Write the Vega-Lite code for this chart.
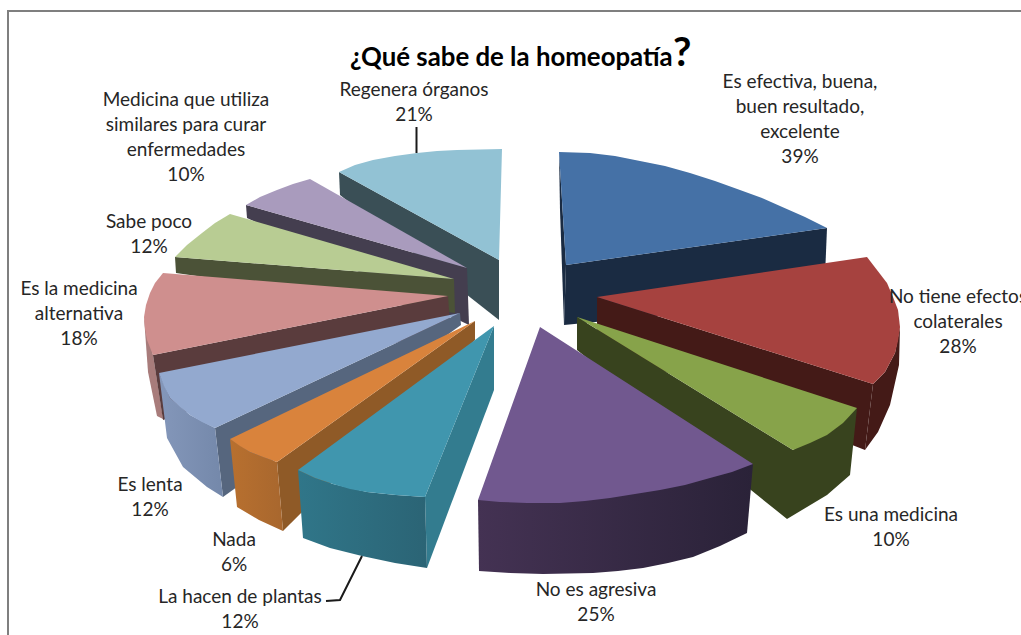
{
"$schema":"https://vega.github.io/schema/vega-lite/v6.json",
"width":1021,"height":635,
"autosize":{"type":"none"},
"padding":0,
"background":"white",
"view":{"stroke":null},
"datasets":{
"labels":[
{"category":"Es efectiva, buena, buen resultado, excelente","pct":39,"label":"Es efectiva, buena,\nbuen resultado,\nexcelente\n39%","x":800,"y":82},
{"category":"No tiene efectos colaterales","pct":28,"label":"No tiene efectos\ncolaterales\n28%","x":958,"y":297},
{"category":"Es una medicina","pct":10,"label":"Es una medicina\n10%","x":891,"y":515},
{"category":"No es agresiva","pct":25,"label":"No es agresiva\n25%","x":596,"y":590},
{"category":"La hacen de plantas","pct":12,"label":"La hacen de plantas\n12%","x":240,"y":597},
{"category":"Nada","pct":6,"label":"Nada\n6%","x":234,"y":540},
{"category":"Es lenta","pct":12,"label":"Es lenta\n12%","x":150,"y":485},
{"category":"Es la medicina alternativa","pct":18,"label":"Es la medicina\nalternativa\n18%","x":79,"y":289},
{"category":"Sabe poco","pct":12,"label":"Sabe poco\n12%","x":149,"y":222},
{"category":"Medicina que utiliza similares para curar enfermedades","pct":10,"label":"Medicina que utiliza\nsimilares para curar\nenfermedades\n10%","x":186,"y":100},
{"category":"Regenera órganos","pct":21,"label":"Regenera órganos\n21%","x":414,"y":90}
],
"frame":[{"i":0,"x":8,"y":635},{"i":1,"x":8,"y":11},{"i":2,"x":1021,"y":11}],
"leaders":[
{"g":"reg","i":0,"x":416.5,"y":127},{"g":"reg","i":1,"x":416.5,"y":153},
{"g":"pla","i":0,"x":362,"y":556},{"g":"pla","i":1,"x":340,"y":600},{"g":"pla","i":2,"x":326,"y":601}
],
"faces":[
{"face":"reg_side","i":0,"x":339,"y":172},{"face":"reg_side","i":1,"x":499,"y":260},{"face":"reg_side","i":2,"x":499,"y":320},{"face":"reg_side","i":3,"x":340,"y":195},
{"face":"reg_top","i":0,"x":339,"y":172},{"face":"reg_top","i":1,"x":355,"y":165},{"face":"reg_top","i":2,"x":373,"y":160},{"face":"reg_top","i":3,"x":395,"y":156},{"face":"reg_top","i":4,"x":417,"y":153},{"face":"reg_top","i":5,"x":437,"y":151},{"face":"reg_top","i":6,"x":457,"y":150},{"face":"reg_top","i":7,"x":480,"y":149.5},{"face":"reg_top","i":8,"x":502,"y":149},{"face":"reg_top","i":9,"x":499,"y":260},
{"face":"lil_side","i":0,"x":246,"y":205},{"face":"lil_side","i":1,"x":467,"y":268},{"face":"lil_side","i":2,"x":469,"y":325},{"face":"lil_side","i":3,"x":247,"y":218},
{"face":"lil_top","i":0,"x":246,"y":205},{"face":"lil_top","i":1,"x":260,"y":197},{"face":"lil_top","i":2,"x":277,"y":190},{"face":"lil_top","i":3,"x":293,"y":184},{"face":"lil_top","i":4,"x":310,"y":179},{"face":"lil_top","i":5,"x":467,"y":268},
{"face":"sab_side","i":0,"x":175,"y":257},{"face":"sab_side","i":1,"x":454,"y":279},{"face":"sab_side","i":2,"x":455,"y":313},{"face":"sab_side","i":3,"x":176,"y":273},
{"face":"sab_top","i":0,"x":175,"y":257},{"face":"sab_top","i":1,"x":187,"y":245},{"face":"sab_top","i":2,"x":202,"y":233},{"face":"sab_top","i":3,"x":215,"y":223},{"face":"sab_top","i":4,"x":230,"y":214},{"face":"sab_top","i":5,"x":454,"y":279},
{"face":"pin_out","i":0,"x":144,"y":317},{"face":"pin_out","i":1,"x":153,"y":355},{"face":"pin_out","i":2,"x":163,"y":419},{"face":"pin_out","i":3,"x":157,"y":416},{"face":"pin_out","i":4,"x":148,"y":372},
{"face":"pin_side","i":0,"x":448,"y":296},{"face":"pin_side","i":1,"x":153,"y":355},{"face":"pin_side","i":2,"x":163,"y":420},{"face":"pin_side","i":3,"x":450,"y":325},
{"face":"pin_top","i":0,"x":163,"y":273},{"face":"pin_top","i":1,"x":155,"y":283},{"face":"pin_top","i":2,"x":150,"y":293},{"face":"pin_top","i":3,"x":146,"y":305},{"face":"pin_top","i":4,"x":144,"y":317},{"face":"pin_top","i":5,"x":145,"y":329},{"face":"pin_top","i":6,"x":147,"y":340},{"face":"pin_top","i":7,"x":153,"y":355},{"face":"pin_top","i":8,"x":448,"y":296},
{"face":"per_right","i":0,"x":460,"y":313},{"face":"per_right","i":1,"x":215,"y":428},{"face":"per_right","i":2,"x":223,"y":497},{"face":"per_right","i":3,"x":461,"y":325},
{"face":"per_front","i":0,"x":159,"y":373},{"face":"per_front","i":1,"x":170,"y":398},{"face":"per_front","i":2,"x":190,"y":415},{"face":"per_front","i":3,"x":215,"y":428},{"face":"per_front","i":4,"x":223,"y":497},{"face":"per_front","i":5,"x":207,"y":487},{"face":"per_front","i":6,"x":183,"y":467},{"face":"per_front","i":7,"x":167,"y":438},
{"face":"per_top","i":0,"x":159,"y":373},{"face":"per_top","i":1,"x":164,"y":386},{"face":"per_top","i":2,"x":170,"y":398},{"face":"per_top","i":3,"x":180,"y":407},{"face":"per_top","i":4,"x":190,"y":415},{"face":"per_top","i":5,"x":202,"y":422},{"face":"per_top","i":6,"x":215,"y":428},{"face":"per_top","i":7,"x":460,"y":313},
{"face":"ora_right","i":0,"x":475,"y":321},{"face":"ora_right","i":1,"x":277,"y":462},{"face":"ora_right","i":2,"x":283,"y":531},{"face":"ora_right","i":3,"x":475,"y":340},
{"face":"ora_front","i":0,"x":230,"y":439},{"face":"ora_front","i":1,"x":250,"y":452},{"face":"ora_front","i":2,"x":277,"y":462},{"face":"ora_front","i":3,"x":283,"y":531},{"face":"ora_front","i":4,"x":259,"y":520},{"face":"ora_front","i":5,"x":237,"y":507},
{"face":"ora_top","i":0,"x":230,"y":439},{"face":"ora_top","i":1,"x":240,"y":446},{"face":"ora_top","i":2,"x":250,"y":452},{"face":"ora_top","i":3,"x":263,"y":457},{"face":"ora_top","i":4,"x":277,"y":462},{"face":"ora_top","i":5,"x":475,"y":321},
{"face":"tea_right","i":0,"x":494,"y":326},{"face":"tea_right","i":1,"x":425,"y":497},{"face":"tea_right","i":2,"x":427,"y":568},{"face":"tea_right","i":3,"x":494,"y":390},
{"face":"tea_front","i":0,"x":298,"y":470},{"face":"tea_front","i":1,"x":315,"y":478},{"face":"tea_front","i":2,"x":333,"y":484},{"face":"tea_front","i":3,"x":367,"y":492},{"face":"tea_front","i":4,"x":396,"y":495},{"face":"tea_front","i":5,"x":425,"y":497},{"face":"tea_front","i":6,"x":427,"y":568},{"face":"tea_front","i":7,"x":395,"y":563},{"face":"tea_front","i":8,"x":362,"y":556},{"face":"tea_front","i":9,"x":330,"y":548},{"face":"tea_front","i":10,"x":303,"y":538},
{"face":"tea_top","i":0,"x":298,"y":470},{"face":"tea_top","i":1,"x":315,"y":478},{"face":"tea_top","i":2,"x":333,"y":484},{"face":"tea_top","i":3,"x":350,"y":489},{"face":"tea_top","i":4,"x":367,"y":492},{"face":"tea_top","i":5,"x":396,"y":495},{"face":"tea_top","i":6,"x":425,"y":497},{"face":"tea_top","i":7,"x":494,"y":326},
{"face":"blu_left","i":0,"x":559,"y":152},{"face":"blu_left","i":1,"x":566,"y":265},{"face":"blu_left","i":2,"x":564,"y":325},{"face":"blu_left","i":3,"x":560,"y":210},
{"face":"blu_side","i":0,"x":566,"y":265},{"face":"blu_side","i":1,"x":827,"y":228},{"face":"blu_side","i":2,"x":824,"y":300},{"face":"blu_side","i":3,"x":564,"y":325},
{"face":"blu_top","i":0,"x":559,"y":152},{"face":"blu_top","i":1,"x":590,"y":153},{"face":"blu_top","i":2,"x":615,"y":156},{"face":"blu_top","i":3,"x":640,"y":161},{"face":"blu_top","i":4,"x":665,"y":166},{"face":"blu_top","i":5,"x":690,"y":173},{"face":"blu_top","i":6,"x":715,"y":181},{"face":"blu_top","i":7,"x":740,"y":190},{"face":"blu_top","i":8,"x":762,"y":198},{"face":"blu_top","i":9,"x":780,"y":206},{"face":"blu_top","i":10,"x":805,"y":217},{"face":"blu_top","i":11,"x":827,"y":228},{"face":"blu_top","i":12,"x":566,"y":265},
{"face":"red_side","i":0,"x":597,"y":297},{"face":"red_side","i":1,"x":873,"y":384},{"face":"red_side","i":2,"x":865,"y":450},{"face":"red_side","i":3,"x":597,"y":345},
{"face":"red_out","i":0,"x":873,"y":384},{"face":"red_out","i":1,"x":885,"y":372},{"face":"red_out","i":2,"x":895,"y":353},{"face":"red_out","i":3,"x":900,"y":327},{"face":"red_out","i":4,"x":899,"y":365},{"face":"red_out","i":5,"x":890,"y":405},{"face":"red_out","i":6,"x":878,"y":432},{"face":"red_out","i":7,"x":865,"y":450},
{"face":"red_top","i":0,"x":597,"y":297},{"face":"red_top","i":1,"x":867,"y":257},{"face":"red_top","i":2,"x":877,"y":270},{"face":"red_top","i":3,"x":887,"y":283},{"face":"red_top","i":4,"x":893,"y":297},{"face":"red_top","i":5,"x":898,"y":310},{"face":"red_top","i":6,"x":900,"y":327},{"face":"red_top","i":7,"x":898,"y":341},{"face":"red_top","i":8,"x":895,"y":353},{"face":"red_top","i":9,"x":885,"y":372},{"face":"red_top","i":10,"x":873,"y":384},
{"face":"gre_side","i":0,"x":577,"y":317},{"face":"gre_side","i":1,"x":793,"y":450},{"face":"gre_side","i":2,"x":857,"y":408},{"face":"gre_side","i":3,"x":850,"y":475},{"face":"gre_side","i":4,"x":827,"y":495},{"face":"gre_side","i":5,"x":787,"y":519},{"face":"gre_side","i":6,"x":577,"y":350},
{"face":"gre_top","i":0,"x":577,"y":317},{"face":"gre_top","i":1,"x":857,"y":408},{"face":"gre_top","i":2,"x":843,"y":423},{"face":"gre_top","i":3,"x":827,"y":435},{"face":"gre_top","i":4,"x":810,"y":443},{"face":"gre_top","i":5,"x":793,"y":450},
{"face":"pur_side","i":0,"x":478,"y":500},{"face":"pur_side","i":1,"x":753,"y":464},{"face":"pur_side","i":2,"x":747,"y":533},{"face":"pur_side","i":3,"x":720,"y":546},{"face":"pur_side","i":4,"x":693,"y":557},{"face":"pur_side","i":5,"x":668,"y":563},{"face":"pur_side","i":6,"x":643,"y":568},{"face":"pur_side","i":7,"x":618,"y":571},{"face":"pur_side","i":8,"x":593,"y":573},{"face":"pur_side","i":9,"x":543,"y":574},{"face":"pur_side","i":10,"x":510,"y":573},{"face":"pur_side","i":11,"x":479,"y":571},
{"face":"pur_top","i":0,"x":540,"y":327},{"face":"pur_top","i":1,"x":753,"y":464},{"face":"pur_top","i":2,"x":732,"y":472},{"face":"pur_top","i":3,"x":710,"y":478},{"face":"pur_top","i":4,"x":685,"y":485},{"face":"pur_top","i":5,"x":660,"y":490},{"face":"pur_top","i":6,"x":635,"y":494},{"face":"pur_top","i":7,"x":610,"y":498},{"face":"pur_top","i":8,"x":585,"y":501},{"face":"pur_top","i":9,"x":560,"y":503},{"face":"pur_top","i":10,"x":527,"y":503},{"face":"pur_top","i":11,"x":500,"y":502},{"face":"pur_top","i":12,"x":478,"y":500}
]
},
"encoding":{
 "x":{"field":"x","type":"quantitative","axis":null,"scale":{"domain":[0,1021]}},
 "y":{"field":"y","type":"quantitative","axis":null,"scale":{"domain":[635,0]}}
},
"layer":[
{"data":{"name":"faces"},
 "transform":[{"filter":{"field":"face","oneOf":["reg_side","reg_top","lil_side","lil_top","sab_side","sab_top","pin_out","pin_side","pin_top","per_right"]}}],
 "mark":{"type":"line","filled":true,"interpolate":"linear-closed"},
 "encoding":{"order":{"field":"i","type":"quantitative"},
  "color":{"field":"face","type":"nominal","legend":null,"scale":{
   "domain":["reg_side","reg_top","lil_side","lil_top","sab_side","sab_top","pin_out","pin_side","pin_top","per_right","per_top","ora_right","ora_top","tea_right","tea_top","blu_left","blu_side","blu_top","red_side","red_out","red_top","gre_side","gre_top","pur_top"],
   "range":["#3a4f56","#92c2d4","#443e4f","#a99bbd","#4b5237","#b8cc93","#a87c7b","#5a3c3d","#cf8f8e","#56667e","#93a9cf","#8f5a27","#d9833c","#337c8f","#4096ae","#1a2b42","#1a2b42","#4571a6","#441a17","#441a17","#a6423f","#38431e","#87a34a","#71588f"]
  }}}},
{"data":{"name":"faces"},"transform":[{"filter":{"field":"face","equal":"per_front"}}],
 "mark":{"type":"line","filled":true,"interpolate":"linear-closed","fill":{"gradient":"linear","x1":0,"y1":0,"x2":1,"y2":0,"stops":[{"offset":0,"color":"#8497ba"},{"offset":1,"color":"#7488aa"}]}},
 "encoding":{"order":{"field":"i","type":"quantitative"}}},
{"data":{"name":"faces"},"transform":[{"filter":{"field":"face","oneOf":["per_top","ora_right"]}}],
 "mark":{"type":"line","filled":true,"interpolate":"linear-closed"},
 "encoding":{"order":{"field":"i","type":"quantitative"},"color":{"field":"face","type":"nominal","legend":null}}},
{"data":{"name":"faces"},"transform":[{"filter":{"field":"face","equal":"ora_front"}}],
 "mark":{"type":"line","filled":true,"interpolate":"linear-closed","fill":{"gradient":"linear","x1":0,"y1":0,"x2":1,"y2":0,"stops":[{"offset":0,"color":"#b8702f"},{"offset":1,"color":"#a8672e"}]}},
 "encoding":{"order":{"field":"i","type":"quantitative"}}},
{"data":{"name":"faces"},"transform":[{"filter":{"field":"face","oneOf":["ora_top","tea_right"]}}],
 "mark":{"type":"line","filled":true,"interpolate":"linear-closed"},
 "encoding":{"order":{"field":"i","type":"quantitative"},"color":{"field":"face","type":"nominal","legend":null}}},
{"data":{"name":"faces"},"transform":[{"filter":{"field":"face","equal":"tea_front"}}],
 "mark":{"type":"line","filled":true,"interpolate":"linear-closed","fill":{"gradient":"linear","x1":0,"y1":0,"x2":1,"y2":0,"stops":[{"offset":0,"color":"#307689"},{"offset":1,"color":"#2b6475"}]}},
 "encoding":{"order":{"field":"i","type":"quantitative"}}},
{"data":{"name":"faces"},"transform":[{"filter":{"field":"face","oneOf":["tea_top","blu_left","blu_side","blu_top","red_side","red_out","red_top","gre_side","gre_top"]}}],
 "mark":{"type":"line","filled":true,"interpolate":"linear-closed"},
 "encoding":{"order":{"field":"i","type":"quantitative"},"color":{"field":"face","type":"nominal","legend":null}}},
{"data":{"name":"faces"},"transform":[{"filter":{"field":"face","equal":"pur_side"}}],
 "mark":{"type":"line","filled":true,"interpolate":"linear-closed","fill":{"gradient":"linear","x1":0,"y1":0,"x2":1,"y2":0,"stops":[{"offset":0,"color":"#443253"},{"offset":1,"color":"#2a2238"}]}},
 "encoding":{"order":{"field":"i","type":"quantitative"}}},
{"data":{"name":"faces"},"transform":[{"filter":{"field":"face","equal":"pur_top"}}],
 "mark":{"type":"line","filled":true,"interpolate":"linear-closed"},
 "encoding":{"order":{"field":"i","type":"quantitative"},"color":{"field":"face","type":"nominal","legend":null}}},
{"data":{"name":"frame"},
 "mark":{"type":"line","strokeWidth":2,"color":"#7f7f7f"},
 "encoding":{"order":{"field":"i","type":"quantitative"}}},
{"data":{"name":"leaders"},
 "mark":{"type":"line","strokeWidth":2,"color":"#1a1a1a"},
 "encoding":{"order":{"field":"i","type":"quantitative"},"detail":{"field":"g","type":"nominal"}}},
{"data":{"name":"labels"},
 "mark":{"type":"text","font":"Lato","fontSize":19,"fill":"#262626","align":"center","baseline":"middle","lineBreak":"\n","lineHeight":25},
 "encoding":{"text":{"field":"label","type":"nominal"}}},
{"data":{"values":[{"t":"¿Qué sabe de la homeopatía","x":350,"y":58}]},
 "mark":{"type":"text","font":"Lato","fontWeight":"bold","fontSize":25.8,"fill":"#000000","align":"left","baseline":"middle"},
 "encoding":{"text":{"field":"t","type":"nominal"}}},
{"data":{"values":[{"t":"?","x":673,"y":54}]},
 "mark":{"type":"text","font":"Lato","fontWeight":"bold","fontSize":40,"fill":"#000000","align":"left","baseline":"middle"},
 "encoding":{"text":{"field":"t","type":"nominal"}}}
]
}
